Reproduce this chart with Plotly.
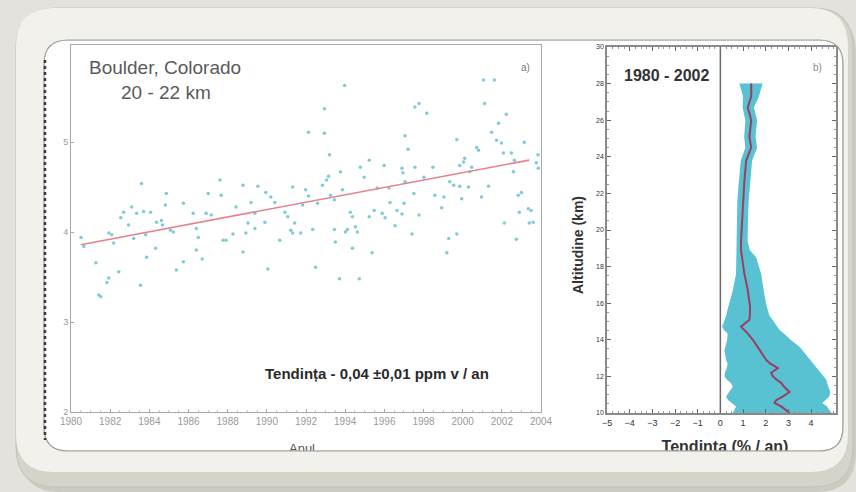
import plotly.graph_objects as go

W, H = 856, 492

# ---------------- Panel a) : Boulder, Colorado 20-22 km ----------------
years = [
    1980.51, 1980.66, 1983.60, 1984.87, 1987.61, 1987.01, 1987.67, 1983.10, 1982.69, 1982.54,
    1983.35, 1983.71, 1984.06, 1984.82, 1985.74, 1986.24, 1986.90, 1987.16, 1984.37, 1984.62,
    1984.67, 1982.94, 1981.93, 1982.08, 1982.18, 1983.20, 1983.81, 1985.08, 1985.23, 1986.40,
    1986.50, 1987.77, 1984.32, 1983.86, 1986.40, 1986.70, 1985.74, 1985.38, 1981.27, 1982.44,
    1981.93, 1981.83, 1983.55, 1981.42, 1981.52,
    1993.97, 1992.94, 1992.13, 1992.94, 1993.20, 1995.23, 1994.77, 1995.99, 1993.76, 1994.97,
    1993.15, 1993.05, 1992.84, 1988.78, 1989.54, 1991.32, 1991.98, 1992.13, 1989.95, 1990.20,
    1993.86, 1993.25, 1995.64, 1996.24, 1988.43, 1989.19, 1989.39, 1990.41, 1990.92, 1991.07,
    1991.83, 1992.59, 1993.45, 1994.26, 1994.37, 1995.48, 1995.89, 1996.04, 1995.23, 1996.29,
    1989.04, 1989.90, 1989.39, 1988.93, 1988.27, 1991.42, 1991.22, 1991.32, 1990.66, 1991.73,
    1992.34, 1993.45, 1994.01, 1994.11, 1994.52, 1994.62, 1993.50, 1988.78, 1994.37, 1995.38,
    1990.05, 1992.49, 1993.71, 1994.72, 1987.92,
    2001.07, 2001.62, 1997.77, 1997.56, 1998.17, 2001.12, 2002.23, 2001.83, 2001.47, 2001.73,
    2001.98, 2003.15, 1997.06, 1999.70, 1997.21, 2000.71, 2000.81, 2002.08, 2002.49, 2002.64,
    2003.85, 2000.10, 2000.05, 1999.85, 2000.46, 2000.36, 2003.76, 2003.86, 2002.59, 1996.90,
    1996.95, 1997.56, 1998.48, 1997.06, 1998.02, 1999.34, 1999.54, 1999.85, 2000.30, 2001.32,
    1997.51, 1998.58, 1999.04, 1999.95, 2000.96, 2003.00, 2002.84, 1997.01, 1996.65, 1996.90,
    1997.77, 1998.93, 2002.89, 2003.35, 2003.50, 2003.40, 2003.60, 2002.13, 1996.55, 1997.41,
    1999.70, 1999.29, 2002.74, 1999.19,
]
ozone_ppmv = [
    3.94, 3.84, 4.54, 4.43, 4.58, 4.43, 4.41, 4.28, 4.22, 4.16,
    4.21, 4.23, 4.22, 4.30, 4.32, 4.21, 4.21, 4.19, 4.11, 4.13,
    4.08, 4.08, 3.99, 3.97, 3.88, 3.93, 3.97, 4.02, 4.00, 4.04,
    3.94, 3.91, 3.82, 3.72, 3.80, 3.70, 3.67, 3.58, 3.66, 3.56,
    3.49, 3.44, 3.41, 3.30, 3.28,
    5.63, 5.37, 5.11, 5.10, 4.86, 4.80, 4.72, 4.74, 4.67, 4.61,
    4.62, 4.58, 4.52, 4.52, 4.51, 4.50, 4.47, 4.40, 4.44, 4.39,
    4.47, 4.41, 4.49, 4.49, 4.28, 4.33, 4.21, 4.33, 4.22, 4.17,
    4.30, 4.32, 4.36, 4.22, 4.17, 4.24, 4.21, 4.16, 4.17, 4.33,
    4.10, 4.11, 4.04, 3.99, 3.98, 4.10, 4.02, 3.99, 3.91, 3.99,
    4.03, 4.03, 4.00, 4.03, 4.06, 4.00, 3.89, 3.78, 3.82, 3.77,
    3.59, 3.61, 3.48, 3.48, 3.91,
    5.69, 5.69, 5.43, 5.39, 5.32, 5.43, 5.31, 5.21, 5.11, 5.02,
    4.99, 5.00, 5.07, 5.03, 4.92, 4.94, 4.91, 4.88, 4.88, 4.80,
    4.86, 4.82, 4.78, 4.74, 4.72, 4.67, 4.77, 4.71, 4.67, 4.71,
    4.66, 4.72, 4.72, 4.56, 4.61, 4.56, 4.52, 4.51, 4.50, 4.51,
    4.43, 4.41, 4.39, 4.37, 4.39, 4.44, 4.41, 4.32, 4.24, 4.20,
    4.19, 4.27, 4.22, 4.26, 4.24, 4.10, 4.11, 4.10, 4.07, 3.98,
    3.98, 3.93, 3.92, 3.77,
]
fit_years = [1980.5, 2003.4]
fit_ppmv = [3.86, 4.80]

year_ticks = list(range(1980, 2005, 2))
ppmv_ticks = [2, 3, 4, 5]

# ---------------- Panel b) : trend profile 1980-2002 ----------------
alt_km = [10.0, 10.35, 10.55, 10.7, 10.9, 11.15, 11.45, 11.65, 11.8, 12.0,
          12.2, 12.45, 12.7, 12.9, 13.45, 13.6, 14.0, 14.35, 14.55, 14.72,
          15.1, 15.3, 15.8, 16.4, 16.7, 17.6, 18.5, 18.9, 19.4, 20.5,
          21.6, 22.7, 23.8, 24.5, 25.1, 26.0, 26.7, 27.3, 28.0]
trend_pct = [3.05, 2.7, 2.39, 2.46, 2.75, 3.05, 2.8, 2.68, 2.5, 2.32,
             2.24, 2.54, 2.2, 2.02, 1.73, 1.65, 1.43, 1.2, 1.05, 0.91,
             1.28, 1.3, 1.31, 1.25, 1.21, 1.06, 0.95, 0.91, 0.91, 0.96,
             0.99, 1.06, 1.14, 1.36, 1.28, 1.36, 1.21, 1.36, 1.36]
band_lo = [0.55, 0.69, 0.5, 0.35, 0.25, 0.4, 0.55, 0.45, 0.3, 0.18,
           0.2, 0.28, 0.32, 0.25, 0.18, 0.22, 0.3, 0.32, 0.15, 0.08,
           0.2, 0.25, 0.35, 0.47, 0.55, 0.69, 0.7, 0.7, 0.7, 0.72,
           0.75, 0.82, 0.9, 1.1, 1.05, 1.1, 0.98, 1.0, 0.84]
band_hi = [4.9, 4.7, 4.5, 4.6, 4.8, 4.85, 4.75, 4.7, 4.68, 4.55,
           4.4, 4.25, 4.1, 3.95, 3.6, 3.5, 3.1, 2.8, 2.6, 2.5,
           2.3, 2.17, 2.05, 1.95, 1.9, 1.8, 1.58, 1.3, 1.2, 1.22,
           1.25, 1.32, 1.4, 1.62, 1.55, 1.62, 1.48, 1.7, 1.86]
pct_ticks = [-5, -4, -3, -2, -1, 0, 1, 2, 3, 4]
alt_ticks = list(range(10, 31, 2))

FONT = "Liberation Sans, Arial, sans-serif"


def px(x):
    return x / W


def py(y):
    return 1 - y / H


def rrect(x0, y0, x1, y1, r):
    pts = [
        f"M {px(x0 + r)},{py(y0)}",
        f"L {px(x1 - r)},{py(y0)}",
        f"Q {px(x1)},{py(y0)} {px(x1)},{py(y0 + r)}",
        f"L {px(x1)},{py(y1 - r)}",
        f"Q {px(x1)},{py(y1)} {px(x1 - r)},{py(y1)}",
        f"L {px(x0 + r)},{py(y1)}",
        f"Q {px(x0)},{py(y1)} {px(x0)},{py(y1 - r)}",
        f"L {px(x0)},{py(y0 + r)}",
        f"Q {px(x0)},{py(y0)} {px(x0 + r)},{py(y0)} Z",
    ]
    return " ".join(pts)


INNER = (44, 40, 843, 451, 24)

fig = go.Figure()

fig.add_trace(go.Scatter(
    x=years, y=ozone_ppmv, mode="markers",
    marker=dict(size=3.5, color="#7fcbd6", line=dict(width=0)),
    xaxis="x", yaxis="y", showlegend=False, hoverinfo="x+y"))
fig.add_trace(go.Scatter(
    x=fit_years, y=fit_ppmv, mode="lines",
    line=dict(color="#e5838b", width=1.6),
    xaxis="x", yaxis="y", showlegend=False))

fig.add_trace(go.Scatter(
    x=band_lo + band_hi[::-1], y=alt_km + alt_km[::-1],
    fill="toself", fillcolor="#58c1d2", line=dict(width=0),
    mode="lines", xaxis="x2", yaxis="y2", showlegend=False, hoverinfo="skip"))
fig.add_trace(go.Scatter(
    x=trend_pct, y=alt_km, mode="lines",
    line=dict(color="#9b3f60", width=2),
    xaxis="x2", yaxis="y2", showlegend=False))

# axis titles as text on a full-page overlay (so the frame can cover their lower half)
fig.add_trace(go.Scatter(
    x=[302], y=[450], mode="text", text=["Anul"],
    textfont=dict(size=13, color="#555", family=FONT), textposition="middle center",
    xaxis="x3", yaxis="y3", showlegend=False, hoverinfo="skip"))
fig.add_trace(go.Scatter(
    x=[725], y=[448], mode="text", text=["<b>Tendinta (% / an)</b>"],
    textfont=dict(size=16, color="#333", family=FONT), textposition="middle center",
    xaxis="x3", yaxis="y3", showlegend=False, hoverinfo="skip"))

shapes = [
    # drop shadow and inner white page (below everything)
    dict(type="path", xref="paper", yref="paper", layer="below",
         path=rrect(20, 13, 856, 492, 40), fillcolor="#b9b6ac", line=dict(width=0), opacity=0.55),
    dict(type="path", xref="paper", yref="paper", layer="below",
         path=rrect(16, 8, 853, 487, 40), fillcolor="#d7d4cb", line=dict(width=0)),
    dict(type="path", xref="paper", yref="paper", layer="below",
         path=rrect(*INNER), fillcolor="#ffffff", line=dict(width=0)),
    # frame bevel ring on top (darker lower rim, lighter upper rim)
    dict(type="path", xref="paper", yref="paper", layer="above", fillrule="evenodd",
         path=rrect(16, 8, 853, 487, 40) + " " + rrect(*INNER),
         fillcolor="#d6d3ca", line=dict(color="#c4c1b7", width=1)),
    dict(type="path", xref="paper", yref="paper", layer="above", fillrule="evenodd",
         path=rrect(16, 8, 848, 472, 38) + " " + rrect(*INNER),
         fillcolor="#f2f1eb", line=dict(width=0)),
    dict(type="path", xref="paper", yref="paper", layer="above",
         path=rrect(*INNER), fillcolor="rgba(0,0,0,0)", line=dict(color="#9e9e9a", width=1.2)),
    dict(type="line", xref="paper", yref="paper", layer="above",
         x0=px(45), x1=px(45), y0=py(60), y1=py(440),
         line=dict(color="#3a3a3a", width=2.5, dash="dot")),
    dict(type="line", xref="x2", yref="y2 domain", x0=0, x1=0, y0=0, y1=1,
         line=dict(color="#6a6a6a", width=1.5)),
]

ann = [
    dict(text="Boulder, Colorado", x=px(87), y=py(67), xanchor="left", yanchor="middle",
         font=dict(size=19, color="#5a5a5a")),
    dict(text="20 - 22 km", x=px(119), y=py(92), xanchor="left", yanchor="middle",
         font=dict(size=19, color="#5a5a5a")),
    dict(text="a)", x=px(525), y=py(67), xanchor="center", yanchor="middle",
         font=dict(size=10, color="#777")),
    dict(text="<b>Tendința - 0,04 ±0,01 ppm v / an</b>", x=px(263), y=py(373),
         xanchor="left", yanchor="middle", font=dict(size=15, color="#2a2a2a")),
    dict(text="<b>1980 - 2002</b>", x=px(622), y=py(75), xanchor="left", yanchor="middle",
         font=dict(size=16, color="#333")),
    dict(text="b)", x=px(817), y=py(68), xanchor="center", yanchor="middle",
         font=dict(size=10, color="#888")),
    dict(text="<b>Altitudine (km)</b>", x=px(578), y=py(245), textangle=-90,
         xanchor="center", yanchor="middle", font=dict(size=14, color="#333")),
]
for a in ann:
    a.update(xref="paper", yref="paper", showarrow=False)

fig.update_layout(
    width=W, height=H, autosize=False,
    margin=dict(l=0, r=0, t=0, b=0, pad=0),
    paper_bgcolor="#e4e2dc", plot_bgcolor="rgba(0,0,0,0)",
    font=dict(family=FONT),
    shapes=shapes, annotations=ann,
    xaxis=dict(domain=[px(71), px(541)], range=[1980, 2004], tickvals=year_ticks,
               ticktext=[str(t) for t in year_ticks], tickfont=dict(size=10, color="#9a9a9a"),
               showline=True, linecolor="#a8a8a8", linewidth=1, mirror=True, anchor="y",
               ticks="inside", ticklen=3, tickcolor="#a8a8a8", showgrid=False, zeroline=False,
               automargin=False,
               minor=dict(ticks="inside", ticklen=2, dtick=0.5, tickcolor="#c8c8c8")),
    yaxis=dict(domain=[py(412), py(45)], range=[2, 6.08], tickvals=ppmv_ticks,
               tickfont=dict(size=9, color="#999"), automargin=False, anchor="x",
               showline=True, linecolor="#a8a8a8", linewidth=1, mirror=True,
               ticks="inside", ticklen=3, tickcolor="#a8a8a8", showgrid=False, zeroline=False),
    xaxis2=dict(domain=[px(607), px(836)], range=[-5, 5.1], tickvals=pct_ticks,
                tickfont=dict(size=9, color="#333"), anchor="y2", automargin=False,
                showline=True, linecolor="#8a8a8a", linewidth=1.5, mirror="ticks",
                ticks="inside", ticklen=4, tickcolor="#666", showgrid=False, zeroline=False,
                minor=dict(ticks="inside", ticklen=2, dtick=0.25, tickcolor="#999")),
    yaxis2=dict(domain=[py(413), py(47)], range=[10, 30], tickvals=alt_ticks,
                tickfont=dict(size=7, color="#333"), anchor="x2", automargin=False,
                showline=True, linecolor="#8a8a8a", linewidth=1.5, mirror="ticks",
                ticks="inside", ticklen=4, tickcolor="#666", showgrid=False, zeroline=False,
                minor=dict(ticks="inside", ticklen=2, dtick=0.5, tickcolor="#999")),
    xaxis3=dict(domain=[0, 1], range=[0, W], visible=False, anchor="y3", fixedrange=True),
    yaxis3=dict(domain=[0, 1], range=[H, 0], visible=False, anchor="x3", fixedrange=True),
)

fig.write_html(
    "out.html",
    config={"displayModeBar": False},
    post_script="document.body.style.margin='0';document.body.style.overflow='hidden';",
)
